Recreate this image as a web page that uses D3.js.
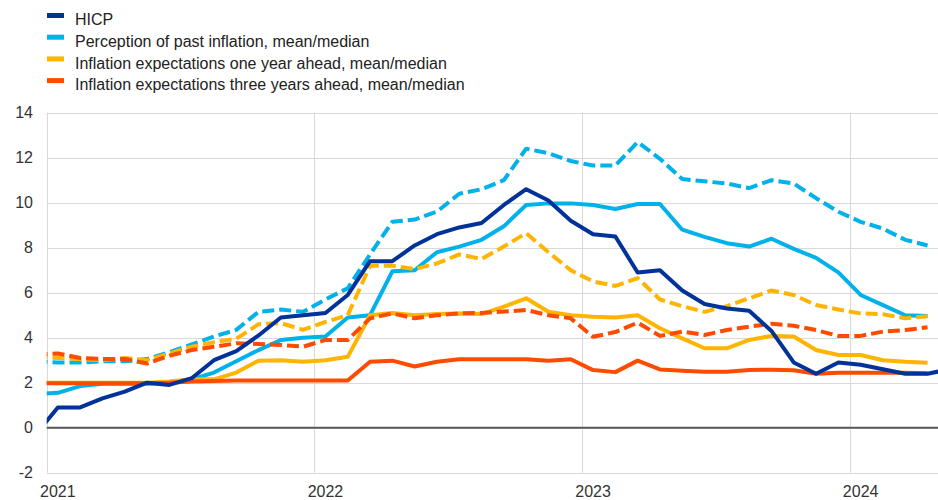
<!DOCTYPE html>
<html>
<head>
<meta charset="utf-8">
<script src="https://cdn.jsdelivr.net/npm/d3@7"></script>
<style>
  body { margin: 0; background: #fff; }
  svg { display: block; font-family: "Liberation Sans", Arial, sans-serif; }
</style>
</head>
<body>
<svg id="chart" width="938" height="500"></svg>
<script>
const SVG = d3.select('#chart');
const WIDTH = 938;
const HEIGHT = 500;
const LEFT = 46.7;
const YEAR_PX = 267.6;

// DATA (monthly, first point = Dec 2020)
const START_MONTH = new Date(2020, 11, 1);
const yearTicks = ['2021', '2022', '2023', '2024'];
const yTicks = [-2, 0, 2, 4, 6, 8, 10, 12, 14];

const hicp = [-0.3,
  0.9, 0.9, 1.3, 1.6, 2.0, 1.9, 2.2, 3.0, 3.4, 4.1, 4.9, 5.0,
  5.1, 5.9, 7.4, 7.4, 8.1, 8.6, 8.9, 9.1, 9.9, 10.6, 10.1, 9.2,
  8.6, 8.5, 6.9, 7.0, 6.1, 5.5, 5.3, 5.2, 4.3, 2.9, 2.4, 2.9,
  2.8, 2.6, 2.4, 2.4, 2.6];

const pastMean = [2.95,
  2.9, 2.9, 2.95, 2.95, 3.05, 3.35, 3.7, 4.05, 4.35, 5.15, 5.25, 5.15,
  5.7, 6.2, 7.7, 9.15, 9.25, 9.6, 10.4, 10.6, 11.0, 12.4, 12.2, 11.85,
  11.65, 11.65, 12.7, 11.95, 11.05, 10.95, 10.85, 10.65, 11.0, 10.85, 10.2, 9.6,
  9.15, 8.85, 8.35, 8.1];

const pastMedian = [1.5,
  1.55, 1.85, 1.95, 1.95, 1.95, 2.0, 2.15, 2.45, 2.95, 3.45, 3.9, 4.0,
  4.05, 4.9, 5.0, 6.95, 7.0, 7.8, 8.05, 8.35, 8.95, 9.9, 9.97, 9.97,
  9.9, 9.72, 9.94, 9.94, 8.8, 8.48, 8.2, 8.05, 8.4, 7.95, 7.55, 6.9,
  5.9, 5.45, 5.0, 4.96];

const oneYearMean = [3.15,
  3.1, 3.05, 3.0, 3.1, 3.0, 3.3, 3.6, 3.8, 3.95, 4.6, 4.65, 4.35,
  4.7, 5.0, 7.2, 7.2, 7.05, 7.3, 7.7, 7.5, 8.05, 8.65, 7.8, 7.0,
  6.5, 6.3, 6.65, 5.7, 5.4, 5.15, 5.4, 5.75, 6.1, 5.9, 5.45, 5.25,
  5.08, 5.04, 4.86, 4.95];

const oneYearMedian = [2.0,
  2.0, 2.0, 2.0, 2.0, 2.0, 2.05, 2.15, 2.15, 2.45, 2.98, 3.0, 2.93,
  3.0, 3.15, 5.0, 5.1, 5.0, 5.05, 5.08, 5.05, 5.38, 5.75, 5.15, 5.0,
  4.93, 4.9, 5.0, 4.42, 3.97, 3.53, 3.53, 3.9, 4.08, 4.05, 3.45, 3.23,
  3.23, 3.0, 2.93, 2.89];

const threeYearMean = [3.25,
  3.3, 3.1, 3.05, 3.05, 2.85, 3.2, 3.45, 3.6, 3.75, 3.72, 3.68, 3.6,
  3.9, 3.9, 4.86, 5.08, 4.86, 5.0, 5.08, 5.1, 5.16, 5.23, 5.0, 4.86,
  4.04, 4.25, 4.67, 4.08, 4.27, 4.12, 4.34, 4.49, 4.62, 4.53, 4.34, 4.08,
  4.08, 4.27, 4.34, 4.46];

const threeYearMedian = [1.98,
  1.98, 1.98, 1.98, 1.98, 1.98, 2.0, 2.05, 2.08, 2.1, 2.1, 2.1, 2.1,
  2.1, 2.1, 2.93, 2.98, 2.72, 2.93, 3.04, 3.04, 3.04, 3.04, 2.98, 3.04,
  2.56, 2.47, 2.98, 2.59, 2.53, 2.49, 2.49, 2.56, 2.58, 2.55, 2.4, 2.44,
  2.44, 2.44, 2.44, 2.42];

const legendLabels = [
  'HICP',
  'Perception of past inflation, mean/median',
  'Inflation expectations one year ahead, mean/median',
  'Inflation expectations three years ahead, mean/median'
];
const COLORS = ['#003299', '#00b1ea', '#ffb400', '#ff4b00'];

// drawing order: bottom to top
const series = [
  { values: pastMedian, color: COLORS[1], dashed: false },
  { values: pastMean, color: COLORS[1], dashed: true },
  { values: oneYearMedian, color: COLORS[2], dashed: false },
  { values: oneYearMean, color: COLORS[2], dashed: true },
  { values: threeYearMedian, color: COLORS[3], dashed: false },
  { values: threeYearMean, color: COLORS[3], dashed: true },
  { values: hicp, color: COLORS[0], dashed: false }
];

// SCALES
const months = d3.timeMonth.range(START_MONTH, new Date(2024, 5, 1));
const monthIndex = d => (d.getFullYear() - 2021) * 12 + d.getMonth();

const x = d3.scaleLinear()
  .domain([0, 12])
  .range([LEFT, LEFT + YEAR_PX]);

const y = d3.scaleLinear()
  .domain([-2, 14])
  .range([472.7, 112.7]);

const PLOT_RIGHT = WIDTH;

// GRID
SVG.append('g')
  .selectAll('line')
  .data(yTicks)
  .join('line')
  .attr('x1', LEFT)
  .attr('x2', PLOT_RIGHT)
  .attr('y1', d => Math.round(y(d)) + 0.5)
  .attr('y2', d => Math.round(y(d)) + 0.5)
  .attr('stroke', '#d9d9d9')
  .attr('stroke-width', 1);

SVG.append('g')
  .selectAll('line')
  .data(yearTicks)
  .join('line')
  .attr('x1', (d, i) => Math.round(x(i * 12)) + 0.5)
  .attr('x2', (d, i) => Math.round(x(i * 12)) + 0.5)
  .attr('y1', y(14))
  .attr('y2', y(-2))
  .attr('stroke', '#d9d9d9')
  .attr('stroke-width', 1);

// zero line
SVG.append('line')
  .attr('x1', LEFT)
  .attr('x2', PLOT_RIGHT)
  .attr('y1', y(0))
  .attr('y2', y(0))
  .attr('stroke', '#595959')
  .attr('stroke-width', 2);

// AXIS LABELS
SVG.append('g')
  .selectAll('text')
  .data(yTicks)
  .join('text')
  .attr('x', 33)
  .attr('y', d => y(d))
  .attr('dy', '0.32em')
  .attr('text-anchor', 'end')
  .attr('font-size', 16)
  .attr('fill', '#333')
  .text(d => d);

SVG.append('g')
  .selectAll('text')
  .data(yearTicks)
  .join('text')
  .attr('x', (d, i) => x(i * 12 + 0.5))
  .attr('y', 497)
  .attr('text-anchor', 'middle')
  .attr('font-size', 16)
  .attr('fill', '#333')
  .text(d => d);

// LINES
SVG.append('clipPath')
  .attr('id', 'plot-clip')
  .append('rect')
  .attr('x', LEFT)
  .attr('y', 90)
  .attr('width', PLOT_RIGHT - LEFT)
  .attr('height', 400);

const line = d3.line()
  .x((d, i) => x(monthIndex(months[i]) + 0.5))
  .y(d => y(d));

SVG.append('g')
  .attr('clip-path', 'url(#plot-clip)')
  .selectAll('path')
  .data(series)
  .join('path')
  .attr('d', d => line(d.values))
  .attr('fill', 'none')
  .attr('stroke', d => d.color)
  .attr('stroke-width', 4)
  .attr('stroke-linejoin', 'round')
  .attr('stroke-dasharray', d => d.dashed ? '12,5' : null);

// LEGEND
const legend = SVG.append('g')
  .selectAll('g')
  .data(legendLabels)
  .join('g')
  .attr('transform', (d, i) => `translate(0, ${15.5 + i * 21.7})`);

legend.append('rect')
  .attr('x', 47)
  .attr('y', -2.5)
  .attr('width', 17)
  .attr('height', 5)
  .attr('fill', (d, i) => COLORS[i]);

legend.append('text')
  .attr('x', 75)
  .attr('y', 9.7)
  .attr('font-size', 16)
  .attr('fill', '#222')
  .text(d => d);
</script>
</body>
</html>
